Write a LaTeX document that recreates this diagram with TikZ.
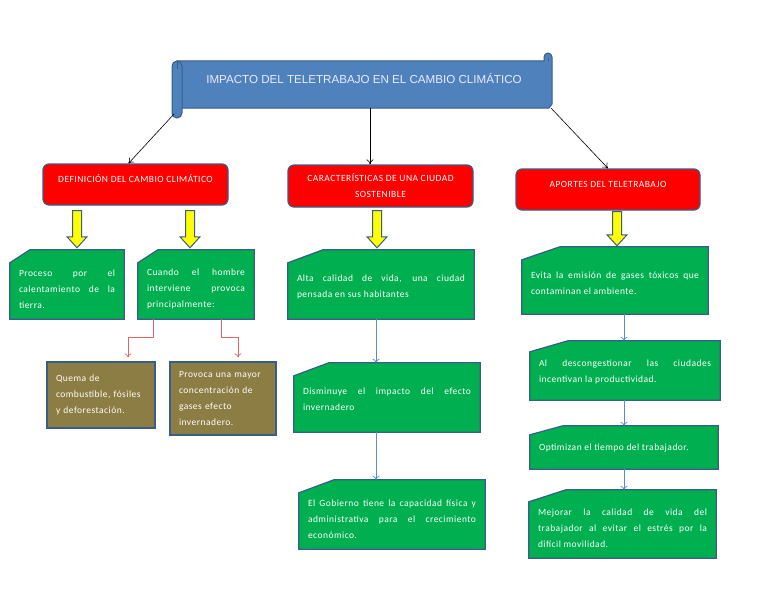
\documentclass[tikz,border=0pt]{standalone}
\usepackage{fontspec}
\setmainfont{Carlito}[LetterSpace=5]
\newfontfamily\arialfont{Liberation Sans}
\usetikzlibrary{arrows.meta,backgrounds,calc}
\definecolor{verdecaja}{HTML}{00B050}
\definecolor{bordeazul}{HTML}{385D8A}
\definecolor{rojocaja}{HTML}{FF0000}
\definecolor{olivo}{HTML}{8C7D44}
\definecolor{cinta}{HTML}{4F81BD}
\definecolor{amarillo}{HTML}{FFFF00}
\definecolor{lineaazul}{HTML}{5B8BC9}
\definecolor{linearoja}{HTML}{E06666}
\hyphenpenalty=10000
\exhyphenpenalty=10000
\tikzset{
  texto/.style={font=\fontsize{9.5}{16}\selectfont, text=white},
  cajaroja/.style={texto, draw=bordeazul, line width=1.2pt, fill=rojocaja, rounded corners=6pt, align=center, inner sep=2pt},
  cajaverde/.style={texto, inner xsep=9pt, align=justify, execute at begin node=\rule{0pt}{#1}},
  cajaverde/.default=16pt,
  cajaolivo/.style={texto, draw=bordeazul, line width=1.2pt, fill=olivo, align=left, inner xsep=9pt},
  verde/.style={fill=verdecaja, draw=bordeazul, line width=1.2pt},
  rollo/.style={fill=cinta, draw=bordeazul, line width=1pt},
  titulo/.style={font=\arialfont\fontsize{11.6}{13}\selectfont, text=white!92!blue},
  flecha/.style={-{To[length=5pt,width=7pt]}, black, line width=0.6pt},
  flechaazul/.style={-{To[length=4pt,width=7pt]}, lineaazul, line width=0.7pt},
  flecharoja/.style={-{To[length=4pt,width=7pt]}, linearoja, line width=0.7pt},
  bloque/.style={fill=amarillo, draw=bordeazul, line width=1pt, line join=miter}
}
\newcommand{\flechagorda}[2]{\draw[bloque] let \p1=#1, \p2=#2 in
  (\x1-4.5pt,\y1) -- (\x1+4.5pt,\y1) -- (\x1+4.5pt,\y2+11pt) -- (\x1+10pt,\y2+11pt)
  -- (\x1,\y2) -- (\x1-10pt,\y2+11pt) -- (\x1-4.5pt,\y2+11pt) -- cycle;}

\begin{document}
\begin{tikzpicture}[x=1pt,y=-1pt]
\useasboundingbox (0,0) rectangle (768,594);

% cinta del titulo
\draw[rollo] (177,61) -- (544,61) -- (544,57) arc[start angle=180,end angle=360,radius=4]
  -- (552,104) -- (549,108) -- (177,108) -- cycle;
\draw[bordeazul, line width=0.8pt] (548,61) -- (548,58);
\draw[rollo] (172,113) -- (172,66) arc[start angle=180,end angle=360,radius=5]
  -- (182,113) arc[start angle=0,end angle=180,radius=5] -- cycle;
\draw[bordeazul, line width=0.8pt] (177,61) -- (177,69);
\coordinate (esq) at (174,114);
\node[titulo, minimum width=374pt, minimum height=47pt, text height=8pt, text depth=10pt] (titulo) at (364,84.5) {IMPACTO DEL TELETRABAJO EN EL CAMBIO CLIMÁTICO};

\node[cajaroja, minimum width=185pt, minimum height=41pt, text height=7pt, text depth=12pt] (r1) at (135.5,184.5) {DEFINICIÓN DEL CAMBIO CLIMÁTICO};
\node[cajaroja, minimum width=185pt, minimum height=42pt] (r2) at (380.5,186) {CARACTERÍSTICAS DE UNA CIUDAD\\SOSTENIBLE};
\node[cajaroja, minimum width=184pt, minimum height=41pt, text height=7pt, text depth=12pt] (r3) at (608,189.5) {APORTES DEL TELETRABAJO};

\node[cajaverde, text width=96pt, minimum height=69pt] (g1) at (67,284.5) {Proceso por el\linebreak calentamiento de la\linebreak tierra.};
\node[cajaverde, text width=98pt, minimum height=69pt] (g2) at (196,284.5) {Cuando el hombre\linebreak interviene provoca\linebreak principalmente:};
\node[cajaverde=11pt, text width=168pt, minimum height=69pt] (g3) at (381,284.5) {Alta calidad de vida, una ciudad\linebreak pensada en sus habitantes};
\node[cajaverde=12pt, text width=168pt, minimum height=67pt] (g4) at (615,280.5) {Evita la emisión de gases tóxicos que\linebreak contaminan el ambiente.};
\node[cajaverde=11pt, text width=168pt, minimum height=69pt] (g5) at (387,397.5) {Disminuye el impacto del efecto\linebreak invernadero};
\node[cajaverde, text width=168pt, minimum height=69pt] (g6) at (392,514.5) {El Gobierno tiene la capacidad física y\linebreak administrativa para el crecimiento\linebreak económico.};
\node[cajaverde=10pt, text width=172pt, minimum height=59pt] (g7) at (625,370.5) {Al descongestionar las ciudades\linebreak incentivan la productividad.};
\node[cajaverde=7pt, text width=170pt, minimum height=43pt] (g8) at (624,447.5) {Optimizan el tiempo del trabajador.};
\node[cajaverde, text width=169pt, minimum height=68pt] (g9) at (622.5,524) {Mejorar la calidad de vida del\linebreak trabajador al evitar el estrés por la\linebreak difícil movilidad.};

\node[cajaolivo, text width=90pt, minimum height=66pt] (o1) at (101,395) {Quema de\\combustible, fósiles\\y deforestación.};
\node[cajaolivo, text width=88pt, minimum height=73pt] (o2) at (223,398.5) {Provoca una mayor\\concentración de\\gases efecto\\invernadero.};

\draw[flecha] (esq) -- ([xshift=-7pt]r1.north);
\draw[flecha] ([xshift=6pt]titulo.south) -- ([xshift=6pt]titulo.south |- r2.north);
\draw[flecha] (titulo.south east) -- (r3.north);

\flechagorda{([xshift=-58.5pt,yshift=-5pt]r1.south)}{([yshift=2pt]g1.north)}
\flechagorda{([xshift=54.5pt,yshift=-5pt]r1.south)}{([yshift=2pt]g2.north)}
\flechagorda{([xshift=-3.5pt,yshift=-3pt]r2.south)}{([yshift=2pt]g3.north)}
\flechagorda{([xshift=9pt,yshift=-1pt]r3.south)}{([yshift=1pt]g4.north)}

\draw[flecharoja] ([xshift=-43pt]g2.south) -- ++(0,18) -| ([xshift=27pt,yshift=4pt]o1.north);
\draw[flecharoja] ([xshift=25pt]g2.south) -- ++(0,18) -| ([xshift=15pt,yshift=4pt]o2.north);

\draw[flechaazul] ([xshift=-5pt]g3.south) -- ([xshift=-5pt]g3.south |- g5.north);
\draw[flechaazul] ([xshift=-11pt]g5.south) -- ([xshift=-11pt]g5.south |- g6.north);
\draw[flechaazul] ([xshift=9pt]g4.south) -- ([xshift=9pt]g4.south |- g7.north);
\draw[flechaazul] ([xshift=-1pt]g7.south) -- ([xshift=-1pt]g7.south |- g8.north);
\draw[flechaazul] (g8.south) -- (g8.south |- g9.north);

\begin{scope}[on background layer]
\fill[white] (0,0) rectangle (768,594);
\foreach \n/\cx/\cy in {g1/20/13, g2/20/13, g3/35/13, g4/38/13, g5/35/13, g6/35/13, g7/38/11, g8/33/9, g9/37/12}
  \draw[verde] (\n.south west) -- ([yshift=-\cy pt]\n.north west) -- ([xshift=\cx pt]\n.north west)
    -- (\n.north east) -- (\n.south east) -- cycle;
\end{scope}
\end{tikzpicture}
\end{document}
